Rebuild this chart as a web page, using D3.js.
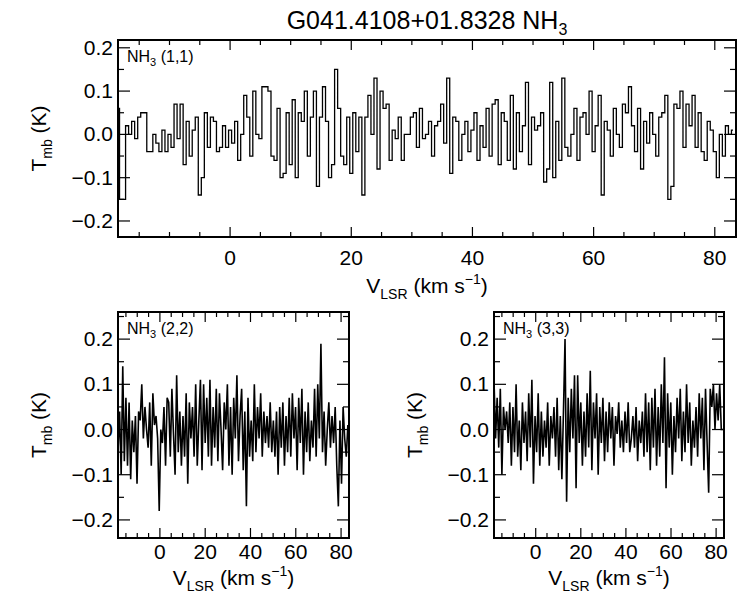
<!DOCTYPE html>
<html><head><meta charset="utf-8">
<script src="https://cdn.jsdelivr.net/npm/d3@7"></script>
<style>body{margin:0;background:#fff}text{font-family:"Liberation Sans",Arial,sans-serif}</style>
</head><body><svg id="c" width="750" height="600"></svg>
<script>
// NH3 (1,1), channel step 0.5 km/s from -18.5
const v11Start = -18.5, v11Step = 0.5;
const t11 = [
0.06,-0.15,-0.15,0.02,0.0,0.03,-0.01,0.04,0.05,0.05,-0.04,-0.04,0.0,-0.02,-0.04,0.01,-0.04,0.0,-0.03,0.07,
-0.01,0.07,-0.07,0.03,-0.05,0.01,0.04,-0.14,-0.1,0.05,-0.03,0.04,0.03,-0.04,-0.03,0.02,-0.03,0.01,-0.02,0.03,
-0.06,0.0,0.09,0.04,-0.05,0.1,0.0,-0.01,0.11,0.11,0.1,-0.05,-0.06,0.06,-0.1,-0.09,0.05,-0.07,0.08,-0.1,
0.05,0.03,0.1,-0.05,0.04,0.1,-0.12,0.04,0.11,0.03,-0.1,-0.07,0.15,0.06,-0.05,-0.07,0.04,-0.09,0.05,-0.04,
0.04,-0.14,0.04,0.09,0.0,0.13,-0.08,0.1,0.06,0.07,-0.06,0.01,-0.01,0.04,-0.06,0.0,0.0,0.04,0.05,-0.03,
0.06,-0.01,0.0,0.03,-0.05,0.02,0.03,0.07,-0.02,0.13,-0.09,0.04,0.03,-0.06,0.0,0.03,-0.04,0.01,0.05,-0.06,
0.02,-0.03,0.06,-0.05,0.07,0.08,-0.07,0.05,0.03,-0.06,0.09,-0.08,0.05,-0.04,0.02,0.12,-0.07,0.04,0.01,0.02,
0.05,-0.11,-0.08,0.12,-0.1,0.03,-0.06,0.13,-0.03,-0.05,0.0,0.06,-0.06,0.04,0.05,0.0,0.1,-0.04,0.02,0.09,
-0.14,0.03,0.01,-0.05,0.06,0.0,-0.03,0.07,0.05,0.11,0.02,-0.04,0.06,-0.08,0.03,-0.02,0.05,0.0,-0.05,0.04,
0.05,0.09,-0.15,-0.12,0.07,0.06,0.1,-0.03,0.07,0.02,0.09,-0.03,0.05,-0.04,-0.06,0.03,0.01,-0.04,-0.1,0.0,
-0.05,0.02,0.0,0.01];

// NH3 (2,2) and (3,3), step 0.7 km/s from -18.5
const vLowStart = -18.5, vLowStep = 0.7;
const t22 = [
-0.05,0.04,-0.1,0.14,-0.07,0.07,-0.08,0.06,-0.11,0.02,
-0.05,0.03,-0.12,0.04,0.02,0.1,-0.02,0.05,0.0,-0.04,
0.06,-0.08,0.08,0.01,0.03,-0.02,-0.18,0.0,-0.03,0.05,
-0.08,0.07,0.06,-0.06,0.09,-0.01,-0.1,0.12,-0.05,0.04,
-0.08,0.03,-0.06,0.08,-0.12,0.06,-0.02,0.05,-0.06,0.1,
-0.08,0.02,0.11,-0.09,0.1,-0.03,0.07,-0.06,0.11,-0.08,
0.05,-0.04,0.09,-0.07,0.08,0.0,-0.09,0.06,0.0,0.1,
-0.08,0.05,-0.1,0.07,-0.02,0.12,-0.07,0.03,0.09,-0.09,
0.04,-0.17,0.07,-0.06,0.02,-0.07,0.1,-0.05,0.05,-0.02,
0.08,-0.06,0.04,-0.03,0.03,-0.04,0.06,-0.05,0.02,-0.06,
0.04,-0.1,0.05,-0.04,0.06,-0.08,0.03,-0.05,0.07,-0.06,
0.08,-0.02,0.05,-0.09,0.07,-0.03,0.09,-0.1,0.04,-0.05,
0.06,-0.07,0.02,-0.04,0.09,-0.06,0.1,-0.02,0.19,-0.05,
0.04,-0.08,0.0,0.06,-0.04,0.03,-0.03,0.05,-0.08,-0.17,
0.02,-0.12,0.05,-0.02,-0.06,0.01];
const t33 = [
0.11,-0.02,0.07,-0.04,0.09,-0.1,0.05,0.0,0.04,-0.03,
0.06,-0.08,0.05,-0.05,0.1,-0.06,0.02,-0.09,0.06,-0.03,
0.04,-0.07,0.08,-0.04,0.11,-0.12,0.03,-0.05,0.08,-0.08,
0.04,-0.06,0.02,-0.04,0.06,-0.08,0.03,-0.02,0.05,-0.06,
0.07,-0.09,0.03,-0.11,0.04,0.2,-0.16,0.07,-0.05,0.09,
-0.02,0.12,-0.13,0.12,-0.03,0.06,-0.08,0.04,-0.06,0.08,
-0.04,0.13,-0.09,0.06,-0.02,0.08,-0.1,0.05,-0.03,0.07,
-0.07,0.04,-0.05,0.06,-0.02,0.05,-0.08,0.03,-0.01,0.06,
-0.04,0.02,-0.05,0.04,-0.03,0.06,-0.05,-0.02,0.03,-0.04,
0.05,-0.07,0.02,-0.03,0.04,-0.06,0.08,-0.05,0.06,-0.09,
0.07,-0.04,0.09,-0.08,0.05,-0.06,0.1,-0.03,0.16,-0.13,
0.08,-0.04,0.06,-0.1,0.03,-0.05,0.07,-0.02,0.09,-0.07,
0.04,-0.05,0.1,-0.03,0.06,-0.08,0.02,-0.04,0.05,-0.06,
0.08,-0.02,0.07,-0.09,0.09,-0.03,-0.14,0.09,0.05,0.1,
0.0,0.08,0.02,0.1,0.0,0.0];

const xTicks = [0,20,40,60,80];
const yTicks = [-0.2,-0.1,0.0,0.1,0.2];

const svg = d3.select("#c");

svg.append("text").attr("x",427).attr("y",29).attr("text-anchor","middle")
  .attr("font-size",25).text("G041.4108+01.8328 NH")
  .append("tspan").attr("font-size",16).attr("dy",6).text("3");

function panel(box, yDom, data, start, step, label, stepMode, tickDy, titleDy){
  const x = d3.scaleLinear().domain([-18.5,83.5]).range([box.l,box.r]);
  const y = d3.scaleLinear().domain(yDom).range([box.b,box.t]);
  const g = svg.append("g");
  const pts = data.map((d,i)=>[start+i*step,d]);
  const line = d3.line().x(d=>x(d[0])).y(d=>y(d[1]))
    .curve(stepMode ? d3.curveStep : d3.curveLinear);
  g.append("path").datum(pts).attr("d",line).attr("fill","none")
    .attr("stroke","#000").attr("stroke-width",stepMode?1.3:1.6);
  g.append("rect").attr("x",box.l).attr("y",box.t).attr("width",box.r-box.l)
    .attr("height",box.b-box.t).attr("fill","none").attr("stroke","#000").attr("stroke-width",2);
  // inward ticks on all sides
  const tk = (x1,y1,x2,y2,w)=>g.append("line").attr("x1",x1).attr("y1",y1)
    .attr("x2",x2).attr("y2",y2).attr("stroke","#000").attr("stroke-width",w||1.2);
  d3.range(-15,84,5).forEach(v=>{
    const L = v%20===0 ? 10 : 5;
    tk(x(v),box.b,x(v),box.b-L); tk(x(v),box.t,x(v),box.t+L);
  });
  d3.range(-0.2,0.26,0.05).forEach(v=>{
    if (y(v)<box.t||y(v)>box.b) return;
    const L = Math.abs(Math.round(v*20))%2===0 ? 12 : 6;
    tk(box.l,y(v),box.l+L,y(v)); tk(box.r,y(v),box.r-L,y(v));
  });
  yTicks.forEach(v=>g.append("text").attr("x",box.l-5).attr("y",y(v)+7)
    .attr("text-anchor","end").attr("font-size",21).text(v.toFixed(1).replace("-","\u2212")));
  xTicks.forEach(v=>g.append("text").attr("x",x(v)).attr("y",box.b+tickDy)
    .attr("text-anchor","middle").attr("font-size",21).text(v));
  const lt = g.append("text").attr("x",box.l+9).attr("y",box.t+22).attr("font-size",16).text("NH");
  lt.append("tspan").attr("font-size",11).attr("dy",4).text("3");
  lt.append("tspan").attr("dy",-4).text(" "+label);
  // axis titles
  const cx = (box.l+box.r)/2;
  const xt = g.append("text").attr("x",cx).attr("y",box.b+titleDy).attr("text-anchor","middle").attr("font-size",21).text("V");
  xt.append("tspan").attr("font-size",14).attr("dy",6).text("LSR");
  xt.append("tspan").attr("dy",-6).text(" (km s");
  xt.append("tspan").attr("font-size",14).attr("dy",-9).text("\u22121");
  xt.append("tspan").attr("dy",9).text(")");
  const cy = (box.t+box.b)/2;
  const yt = g.append("text").attr("transform",`translate(${box.l-72},${cy}) rotate(-90)`)
    .attr("text-anchor","middle").attr("font-size",21).text("T");
  yt.append("tspan").attr("font-size",14).attr("dy",6).text("mb");
  yt.append("tspan").attr("dy",-6).text(" (K)");
}

panel({l:118,r:736,t:40,b:237},[-0.237,0.218],t11,v11Start,v11Step,"(1,1)",true,28,56);
panel({l:118,r:349,t:312,b:538},[-0.24,0.26],t22,vLowStart,vLowStep,"(2,2)",false,21,47);
panel({l:494,r:724,t:312,b:538},[-0.24,0.26],t33,vLowStart,vLowStep,"(3,3)",false,21,47);
</script></body></html>
